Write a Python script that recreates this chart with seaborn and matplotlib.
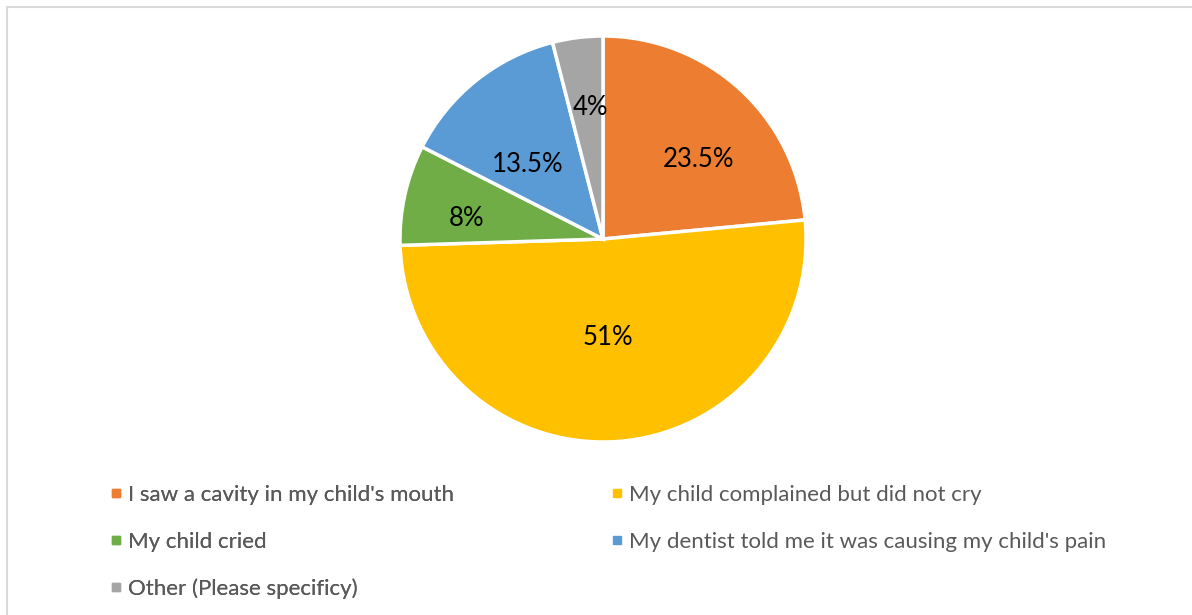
import matplotlib
matplotlib.use("Agg")
import matplotlib.pyplot as plt
from matplotlib.lines import Line2D
from matplotlib.patches import Rectangle
import numpy as np
import seaborn as sns

# Survey answers and their shares (%)
categories = [
    "I saw a cavity in my child's mouth",
    "My child complained but did not cry",
    "My child cried",
    "My dentist told me it was causing my child's pain",
    "Other (Please specificy)",
]
shares = [23.5, 51, 8, 13.5, 4]
value_labels = ["23.5%", "51%", "8%", "13.5%", "4%"]
colors = ["#ED7D31", "#FFC000", "#70AD47", "#5B9BD5", "#A5A5A5"]

# placement of each value label: radial fraction and angular nudge (deg)
label_dist = [0.617, 0.471, 0.682, 0.53, 0.663]
label_turn = [-7.1, -0.9, 3.0, 5.5, -1.7]

sns.set_theme(style="white")
plt.rcParams["font.family"] = ["Lato", "DejaVu Sans"]
palette = sns.color_palette(colors)

W, H = 1192, 615
fig = plt.figure(figsize=(W / 100, H / 100), dpi=100)
fig.patch.set_facecolor("white")

# chart frame (top and left edges visible)
fig.patches.append(Rectangle((6.5 / W, -0.2), 1.5, 1.2 - 6.5 / H,
                             transform=fig.transFigure, fill=False,
                             edgecolor="#D9D9D9", linewidth=1.5))

cx, cy, r = 603, 239, 203
ax = fig.add_axes([(cx - r) / W, (H - cy - r) / H, 2 * r / W, 2 * r / H])
wedges, _ = ax.pie(shares, colors=palette, startangle=90, counterclock=False,
                   radius=1, wedgeprops=dict(edgecolor="white", linewidth=2.5))
for w, lab, d, t in zip(wedges, value_labels, label_dist, label_turn):
    ang = np.deg2rad((w.theta1 + w.theta2) / 2 + t)
    ax.text(d * np.cos(ang), d * np.sin(ang), lab, ha="center",
            va="center_baseline", fontsize=18.5, color="black")
ax.set_xlim(-1, 1)
ax.set_ylim(-1, 1)
ax.axis("off")


def handle(c):
    return Line2D([], [], marker="s", linestyle="none", markersize=5.8,
                  markerfacecolor=c, markeredgecolor=c)


leg_kw = dict(frameon=False, fontsize=16, labelcolor="#595959", loc="upper left",
              handlelength=0.5, handletextpad=0.29, labelspacing=1.2,
              borderpad=0, borderaxespad=0)
col1 = [0, 2, 4]
col2 = [1, 3]
leg1 = fig.legend([handle(colors[i]) for i in col1], [categories[i] for i in col1],
                  bbox_to_anchor=(110.5 / W, 1 - 485 / H), **leg_kw)
leg2 = fig.legend([handle(colors[i]) for i in col2], [categories[i] for i in col2],
                  bbox_to_anchor=(611 / W, 1 - 485 / H), **leg_kw)
fig.add_artist(leg1)

fig.savefig("out.png", dpi=100, facecolor="white")
